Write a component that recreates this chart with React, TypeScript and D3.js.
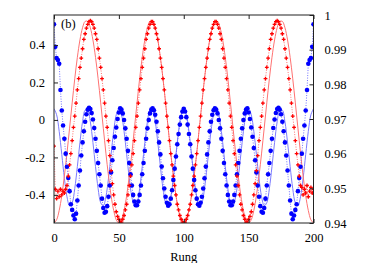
import React, { useRef, useEffect } from 'react';
import * as d3 from 'd3';

// rung index for the points (every rung) and for the fitted curves (every 2 rungs)
const rungs = d3.range(0, 201);
const curveRungs = d3.range(0, 201, 2);

// fitted curves (solid, lighter)
const redCurve = [
  -0.55, -0.533, -0.483, -0.404, -0.299, -0.177, -0.044, 0.091, 0.22, 0.334, 0.427, 0.492, 0.526, 0.526, 0.492, 0.427, 0.334, 0.22, 0.091, -0.044, -0.177, -0.299, -0.404, -0.483, -0.533,
  -0.55, -0.533, -0.483, -0.404, -0.299, -0.177, -0.044, 0.091, 0.22, 0.334, 0.427, 0.492, 0.526, 0.526, 0.492, 0.427, 0.334, 0.22, 0.091, -0.044, -0.177, -0.299, -0.404, -0.483, -0.533,
  -0.55, -0.533, -0.483, -0.404, -0.299, -0.177, -0.044, 0.091, 0.22, 0.334, 0.427, 0.492, 0.526, 0.526, 0.492, 0.427, 0.334, 0.22, 0.091, -0.044, -0.177, -0.299, -0.404, -0.483, -0.533,
  -0.55, -0.533, -0.483, -0.404, -0.299, -0.177, -0.044, 0.091, 0.22, 0.334, 0.427, 0.492, 0.526, 0.526, 0.492, 0.427, 0.334, 0.22, 0.091, -0.044, -0.177, -0.299, -0.404, -0.483, -0.533,
  -0.55,
];
const blueCurve = [
  0.06, 0.028, -0.061, -0.184, -0.311, -0.41, -0.458, -0.442, -0.366, -0.249, -0.12, -0.01, 0.052, 0.052, -0.01, -0.12, -0.249, -0.366, -0.442, -0.458, -0.41, -0.311, -0.184, -0.061, 0.028,
  0.06, 0.028, -0.061, -0.184, -0.311, -0.41, -0.458, -0.442, -0.366, -0.249, -0.12, -0.01, 0.052, 0.052, -0.01, -0.12, -0.249, -0.366, -0.442, -0.458, -0.41, -0.311, -0.184, -0.061, 0.028,
  0.06, 0.028, -0.061, -0.184, -0.311, -0.41, -0.458, -0.442, -0.366, -0.249, -0.12, -0.01, 0.052, 0.052, -0.01, -0.12, -0.249, -0.366, -0.442, -0.458, -0.41, -0.311, -0.184, -0.061, 0.028,
  0.06, 0.028, -0.061, -0.184, -0.311, -0.41, -0.458, -0.442, -0.366, -0.249, -0.12, -0.01, 0.052, 0.052, -0.01, -0.12, -0.249, -0.366, -0.442, -0.458, -0.41, -0.311, -0.184, -0.061, 0.028,
  0.06,
];

// measured points (one per rung)
const redPoints = [
  -0.14, -0.37, -0.42, -0.38, -0.41, -0.37, -0.40, -0.38, -0.39, -0.37,
  -0.35, -0.30, -0.24, -0.18, -0.11, -0.04, 0.02, 0.09, 0.16, 0.22,
  0.28, 0.33, 0.38, 0.43, 0.46, 0.49, 0.51, 0.525, 0.53, 0.525,
  0.51, 0.49, 0.46, 0.43, 0.38, 0.33, 0.28, 0.22, 0.16, 0.09,
  0.02, -0.04, -0.11, -0.19, -0.27, -0.34, -0.40, -0.45, -0.49, -0.515,
  -0.53, -0.545, -0.545, -0.53, -0.51, -0.48, -0.45, -0.40, -0.35, -0.30,
  -0.24, -0.18, -0.11, -0.04, 0.02, 0.09, 0.16, 0.22, 0.28, 0.33,
  0.38, 0.43, 0.46, 0.49, 0.51, 0.525, 0.525, 0.51, 0.49, 0.46,
  0.43, 0.38, 0.33, 0.28, 0.22, 0.16, 0.09, 0.02, -0.04, -0.11,
  -0.18, -0.24, -0.30, -0.35, -0.40, -0.45, -0.48, -0.51, -0.53, -0.545,
  -0.55,
  -0.545, -0.53, -0.51, -0.48, -0.45, -0.40, -0.35, -0.30, -0.24, -0.18,
  -0.11, -0.04, 0.02, 0.09, 0.16, 0.22, 0.28, 0.33, 0.38, 0.43,
  0.46, 0.49, 0.51, 0.525, 0.525, 0.51, 0.49, 0.46, 0.43, 0.38,
  0.33, 0.28, 0.22, 0.16, 0.09, 0.02, -0.04, -0.11, -0.18, -0.24,
  -0.30, -0.35, -0.40, -0.45, -0.48, -0.51, -0.53, -0.545, -0.545, -0.53,
  -0.515, -0.49, -0.45, -0.40, -0.34, -0.27, -0.19, -0.11, -0.04, 0.02,
  0.09, 0.16, 0.22, 0.28, 0.33, 0.38, 0.43, 0.46, 0.49, 0.51,
  0.525, 0.53, 0.525, 0.51, 0.49, 0.46, 0.43, 0.38, 0.33, 0.28,
  0.22, 0.16, 0.09, 0.02, -0.04, -0.11, -0.18, -0.24, -0.30, -0.35,
  -0.36, -0.40, -0.37, -0.39, -0.35, -0.41, -0.38, -0.36, -0.39, -0.37,
];
const bluePoints = [
  0.51, 0.39, 0.33, 0.32, 0.30, 0.16, 0.05, -0.03, -0.10, -0.18,
  -0.25, -0.31, -0.38, -0.45, -0.48, -0.51, -0.53, -0.50, -0.43, -0.35,
  -0.27, -0.19, -0.12, -0.06, -0.01, 0.03, 0.055, 0.065, 0.058, 0.037,
  0.002, -0.043, -0.10, -0.165, -0.23, -0.29, -0.35, -0.42, -0.47, -0.495,
  -0.49, -0.46, -0.41, -0.35, -0.28, -0.215, -0.15, -0.09, -0.04, 0.005,
  0.04, 0.062, 0.055, 0.035, 0.0, -0.045, -0.10, -0.165, -0.23, -0.29,
  -0.35, -0.40, -0.435, -0.455, -0.455, -0.435, -0.40, -0.35, -0.29, -0.23,
  -0.165, -0.10, -0.045, 0.0, 0.035, 0.055, 0.062, 0.052, 0.028, -0.01,
  -0.061, -0.12, -0.184, -0.249, -0.311, -0.366, -0.41, -0.442, -0.458, -0.45,
  -0.42, -0.375, -0.32, -0.26, -0.195, -0.13, -0.075, -0.025, 0.015, 0.045,
  0.06,
  0.045, 0.015, -0.025, -0.075, -0.13, -0.195, -0.26, -0.32, -0.375, -0.42,
  -0.45, -0.458, -0.442, -0.41, -0.366, -0.311, -0.249, -0.184, -0.12, -0.061,
  -0.01, 0.028, 0.052, 0.062, 0.055, 0.035, 0.0, -0.045, -0.10, -0.165,
  -0.23, -0.29, -0.35, -0.40, -0.435, -0.455, -0.455, -0.435, -0.40, -0.35,
  -0.29, -0.23, -0.165, -0.10, -0.045, 0.0, 0.035, 0.055, 0.062, 0.04,
  0.005, -0.04, -0.09, -0.15, -0.215, -0.28, -0.35, -0.41, -0.46, -0.49,
  -0.495, -0.47, -0.42, -0.35, -0.29, -0.23, -0.165, -0.10, -0.043, 0.002,
  0.037, 0.058, 0.065, 0.055, 0.03, -0.01, -0.06, -0.12, -0.19, -0.27,
  -0.35, -0.43, -0.50, -0.53, -0.51, -0.48, -0.45, -0.38, -0.31, -0.25,
  -0.18, -0.10, -0.03, 0.05, 0.16, 0.30, 0.32, 0.33, 0.39, 0.51,
];

const xTicks = [0, 50, 100, 150, 200];
const yTicks = [-0.4, -0.2, 0, 0.2, 0.4];
const y2Ticks = [0.94, 0.95, 0.96, 0.97, 0.98, 0.99, 1];

const W = 375;
const H = 263;
const FONT = '"Liberation Serif", "Times New Roman", serif';

const Chart = () => {
  const svgRef = useRef(null);

  useEffect(() => {
    const svg = d3.select(svgRef.current);
    svg.selectAll('*').remove();

    const left = 54, right = 313.5, top = 15, bottom = 223;

    const x = d3.scaleLinear().domain([0, 200]).range([left, right]);
    const y = d3.scaleLinear().domain([-0.55, 0.56]).range([bottom, top]);
    const y2 = d3.scaleLinear().domain([0.94, 1]).range([bottom, top]);

    svg.append('defs').append('clipPath').attr('id', 'plotclip')
      .append('rect')
      .attr('x', left).attr('y', top)
      .attr('width', right - left).attr('height', bottom - top);

    const plot = svg.append('g').attr('clip-path', 'url(#plotclip)');

    const curve = (vals) => d3.line()
      .x((d, i) => x(curveRungs[i]))
      .y(d => y(d))
      .curve(d3.curveCatmullRom)(vals);

    const dots = (vals) => d3.line()
      .x((d, i) => x(rungs[i]))
      .y(d => y(d))(vals);

    // fitted curves
    plot.append('path').attr('d', curve(blueCurve))
      .attr('fill', 'none').attr('stroke', '#7b7bff').attr('stroke-width', 1);
    plot.append('path').attr('d', curve(redCurve))
      .attr('fill', 'none').attr('stroke', '#ff7272').attr('stroke-width', 1);

    // dotted connectors
    plot.append('path').attr('d', dots(bluePoints))
      .attr('fill', 'none').attr('stroke', '#4d4dff').attr('stroke-width', 0.8)
      .attr('stroke-dasharray', '1,1.5');
    plot.append('path').attr('d', dots(redPoints))
      .attr('fill', 'none').attr('stroke', '#ff4d4d').attr('stroke-width', 0.8)
      .attr('stroke-dasharray', '1,1.5');

    // blue points
    plot.selectAll('.bp')
      .data(bluePoints)
      .enter()
      .append('circle')
      .attr('cx', (d, i) => x(rungs[i]))
      .attr('cy', d => y(d))
      .attr('r', 2.3)
      .attr('fill', '#0000ff');

    // red points
    plot.selectAll('.rp')
      .data(redPoints)
      .enter()
      .append('path')
      .attr('transform', (d, i) => `translate(${x(rungs[i])},${y(d)})`)
      .attr('d', 'M-1.9,0H1.9M0,-1.9V1.9')
      .attr('stroke', '#ff0000')
      .attr('stroke-width', 1.3)
      .attr('fill', 'none');

    // frame
    svg.append('rect')
      .attr('x', left).attr('y', top)
      .attr('width', right - left).attr('height', bottom - top)
      .attr('fill', 'none').attr('stroke', '#222').attr('stroke-width', 1);

    const styleAxis = (g) => {
      g.attr('font-family', null).attr('font-size', null);
      g.select('.domain').remove();
      g.selectAll('line').attr('stroke', '#222');
      g.selectAll('text')
        .style('font-family', FONT)
        .style('font-size', '12.5px')
        .attr('fill', '#000');
    };

    svg.append('g')
      .attr('transform', `translate(0,${bottom})`)
      .call(d3.axisBottom(x).tickValues(xTicks).tickSize(-4).tickSizeOuter(0).tickPadding(10).tickFormat(d3.format('d')))
      .call(styleAxis);

    svg.append('g')
      .attr('transform', `translate(0,${top})`)
      .call(d3.axisTop(x).tickValues(xTicks).tickSize(-4).tickSizeOuter(0).tickFormat(() => ''))
      .call(styleAxis);

    svg.append('g')
      .attr('transform', `translate(${left},0)`)
      .call(d3.axisLeft(y).tickValues(yTicks).tickSize(-4).tickSizeOuter(0).tickPadding(9).tickFormat(d => String(d)))
      .call(styleAxis);

    svg.append('g')
      .attr('transform', `translate(${right},0)`)
      .call(d3.axisRight(y2).tickValues(y2Ticks).tickSize(-4).tickSizeOuter(0).tickPadding(11).tickFormat(d => String(d)))
      .call(styleAxis);

    svg.append('text')
      .attr('x', x(100)).attr('y', 261)
      .attr('text-anchor', 'middle')
      .style('font-family', FONT).style('font-size', '12.5px')
      .text('Rung');

    svg.append('text')
      .attr('x', 61).attr('y', 27.5)
      .style('font-family', FONT).style('font-size', '12.5px')
      .text('(b)');
  }, []);

  return (
    <svg ref={svgRef} width={W} height={H}
      style={{ position: 'absolute', left: 0, top: 0, background: '#fff' }}></svg>
  );
};

export default function App() {
  return <Chart />;
}
